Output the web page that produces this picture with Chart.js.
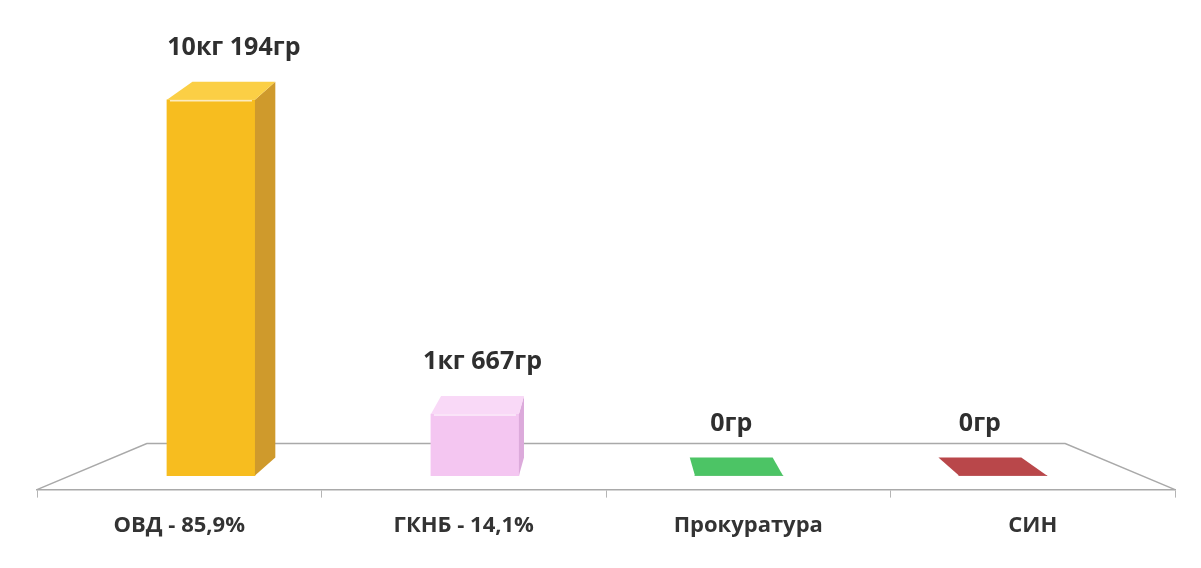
<!DOCTYPE html>
<html>
<head>
<meta charset="utf-8">
<script src="https://cdn.jsdelivr.net/npm/chart.js@4"></script>
<style>
  html, body { margin: 0; padding: 0; background: #fff; }
  #wrap { width: 1201px; height: 568px; }
</style>
</head>
<body>
<div id="wrap"><canvas id="seizureChart"></canvas></div>
<script>
const categories = ['ОВД - 85,9%', 'ГКНБ - 14,1%', 'Прокуратура', 'СИН']
const grams = [10194, 1667, 0, 0]
const frontColors = ['#f7bd1f', '#f4c6f1', '#3fb457', '#ab3a3d']
const sideColors = ['#cf9a2c', '#dcaadb', '#2e9444', '#8a2a2d']
const topColors = ['#fbcf45', '#f9d9f7', '#4cc465', '#b9474a']

// 10194 -> "10кг 194гр", 0 -> "0гр"
const formatWeight = (g) => {
  const kg = Math.floor(g / 1000)
  const gr = g % 1000
  return kg > 0 ? `${kg}кг ${gr}гр` : `${gr}гр`
}

const FLOOR_DEPTH = 46      // px from front edge of floor to back edge
const FLOOR_SHRINK = 0.807  // back edge width relative to front edge
const BAR_DEPTH = 18
const BAR_SHRINK = 0.942

const shade = (ctx, pts, fill) => {
  ctx.beginPath()
  ctx.moveTo(pts[0][0], pts[0][1])
  pts.slice(1).forEach(p => ctx.lineTo(p[0], p[1]))
  ctx.closePath()
  ctx.fillStyle = fill
  ctx.fill()
}

const floor3d = {
  id: 'floor3d',
  beforeDatasetsDraw(chart) {
    const { ctx, chartArea } = chart
    const cx = (chartArea.left + chartArea.right) / 2
    const front = chartArea.bottom
    const back = front - FLOOR_DEPTH
    const bl = cx + (chartArea.left - cx) * FLOOR_SHRINK
    const br = cx + (chartArea.right - cx) * FLOOR_SHRINK
    ctx.save()
    ctx.beginPath()
    ctx.moveTo(chartArea.left, front)
    ctx.lineTo(bl, back)
    ctx.lineTo(br, back)
    ctx.lineTo(chartArea.right, front)
    ctx.strokeStyle = '#a9a9a9'
    ctx.lineWidth = 1.5
    ctx.stroke()
    ctx.restore()
  },
  afterDatasetsDraw(chart) {
    const { ctx, chartArea } = chart
    const cx = (chartArea.left + chartArea.right) / 2
    const meta = chart.getDatasetMeta(0)
    ctx.save()
    meta.data.forEach((bar, i) => {
      const half = bar.width / 2
      const l = bar.x - half
      const r = bar.x + half
      const top = Math.min(bar.y, bar.base)
      const base = bar.base
      const bl = cx + (l - cx) * BAR_SHRINK
      const br = cx + (r - cx) * BAR_SHRINK
      // side face toward the centre
      if (bar.x < cx) {
        shade(ctx, [[r, top], [br, top - BAR_DEPTH], [br, base - BAR_DEPTH], [r, base]], sideColors[i])
      } else {
        shade(ctx, [[l, top], [bl, top - BAR_DEPTH], [bl, base - BAR_DEPTH], [l, base]], sideColors[i])
      }
      // top face
      shade(ctx, [[l, top], [r, top], [br, top - BAR_DEPTH], [bl, top - BAR_DEPTH]], topColors[i])
      if (base - top > 4) {
        ctx.strokeStyle = 'rgba(255,255,255,0.7)'
        ctx.lineWidth = 1.5
        ctx.beginPath()
        ctx.moveTo(l + 3, top + 1)
        ctx.lineTo(r - 3, top + 1)
        ctx.stroke()
      }
      // value label above the back of the bar
      const lx = cx + (bar.x - cx) * BAR_SHRINK
      ctx.fillStyle = '#2f2f2f'
      ctx.font = 'bold 25px "Open Sans", sans-serif'
      ctx.textAlign = 'center'
      ctx.textBaseline = 'middle'
      ctx.fillText(formatWeight(grams[i]), lx, top - BAR_DEPTH - 34)
    })
    ctx.restore()
  }
}

new Chart(document.getElementById('seizureChart'), {
  type: 'bar',
  data: {
    labels: categories,
    datasets: [{
      data: grams.map((g, i) => ({ x: i, y: g })),
      xAxisID: 'xb',
      backgroundColor: frontColors,
      borderWidth: 0,
      barThickness: 88,
      borderSkipped: false
    }]
  },
  options: {
    responsive: true,
    maintainAspectRatio: false,
    animation: false,
    layout: {
      padding: { top: 70, left: 37, right: 26, bottom: 14 }
    },
    plugins: {
      legend: { display: false },
      tooltip: { enabled: false }
    },
    scales: {
      x: {
        type: 'category',
        position: 'bottom',
        offset: true,
        grid: {
          offset: true,
          drawOnChartArea: false,
          drawTicks: true,
          tickLength: 8,
          color: '#b5b5b5'
        },
        border: { display: true, color: '#a9a9a9', width: 1.5 },
        ticks: {
          padding: 15,
          color: '#333',
          font: { family: '"Open Sans", sans-serif', size: 22, weight: 'bold' }
        }
      },
      xb: {
        type: 'linear',
        display: false,
        offset: false,
        grid: { offset: false },
        min: -0.659,
        max: 3.652
      },
      y: {
        display: false,
        min: -380,
        max: 11000
      }
    }
  },
  plugins: [floor3d]
})
</script>
</body>
</html>
